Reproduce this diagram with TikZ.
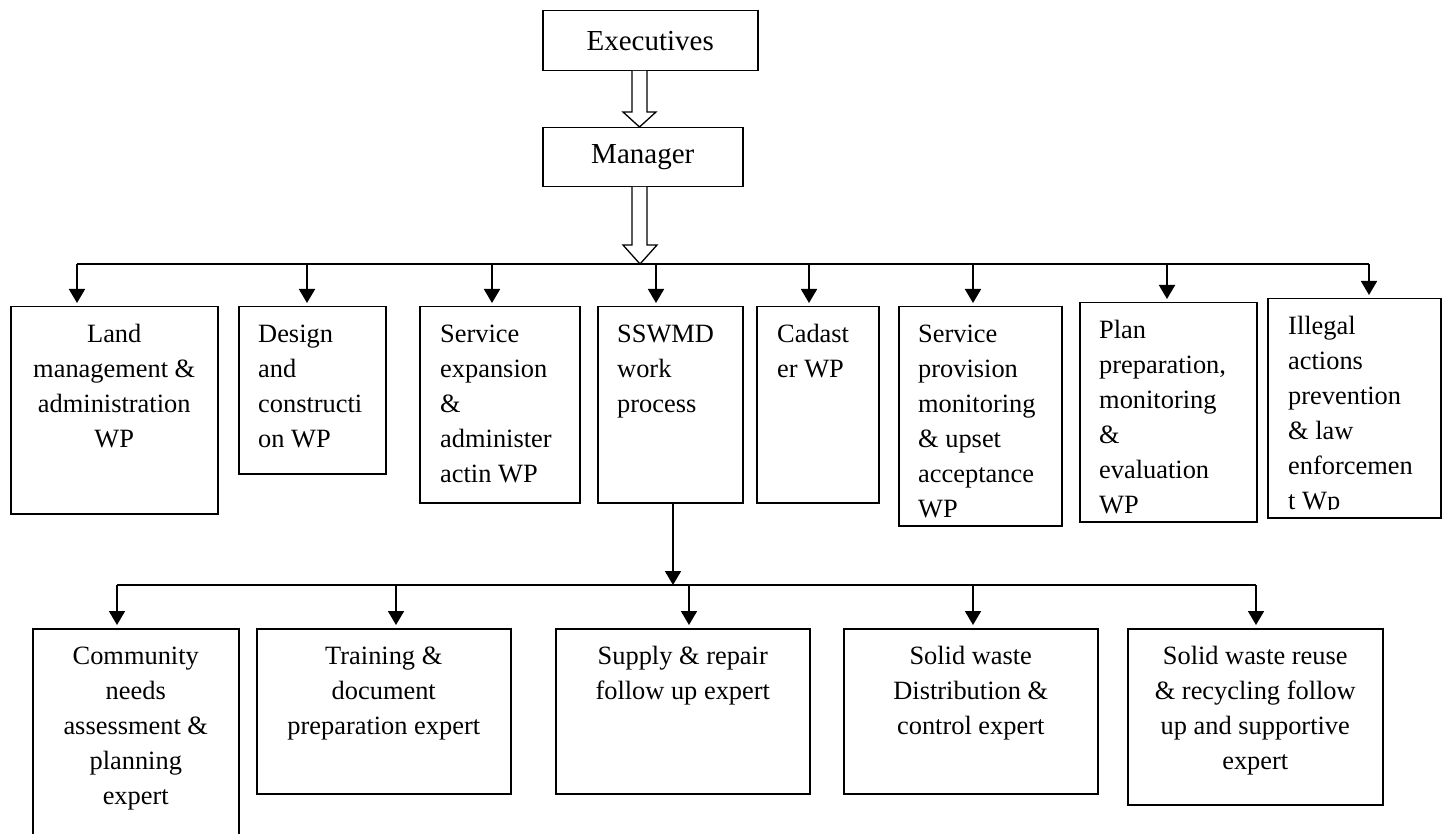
\documentclass[tikz,border=0pt]{standalone}
\usepackage{fontspec}
\setmainfont{Liberation Serif}
\usetikzlibrary{arrows.meta,calc}
\newcommand\fl{\rule{0pt}{20pt}}
\newcommand\boxtext[4]{%
  \begin{scope}
    \clip (#1.north west) rectangle ($(#1.south east)+(0,-9)$);
    \node[#2] (#1-t) at #3 {\fl #4};
  \end{scope}}
\begin{document}
\begin{tikzpicture}[x=1pt,y=-1pt,
  box/.style={draw,line width=1.5pt,rectangle,inner sep=0pt,anchor=north west},
  txt/.style={font=\fontsize{26.4}{35}\selectfont,inner sep=0pt},
  ltxt/.style={txt,align=left,anchor=north west},
  ctxt/.style={txt,align=center,anchor=north},
  toptxt/.style={font=\fontsize{29}{35}\selectfont},
  arr/.style={line width=1.8pt,-{Triangle[length=14pt,width=16pt]},shorten >=3pt},
  bus/.style={line width=1.8pt},
  hollow/.style={draw,line width=1.3pt,fill=white,line join=miter}]
\clip (0,0) rectangle (1444,834);

% top
\node[box,minimum width=215pt,minimum height=60pt,toptxt] (exec) at (542,10) {Executives};
\node[box,minimum width=200pt,minimum height=59pt,toptxt] (mgr) at (542,127) {Manager};

% row 1
\node[box,minimum width=207pt,minimum height=207pt] (land) at (10,306) {};
\node[box,minimum width=147pt,minimum height=167pt] (design) at (238,306) {};
\node[box,minimum width=160pt,minimum height=196pt] (svcexp) at (419,306) {};
\node[box,minimum width=145pt,minimum height=196pt] (sswmd) at (597,306) {};
\node[box,minimum width=122pt,minimum height=196pt] (cad) at (756,306) {};
\node[box,minimum width=163pt,minimum height=219pt] (svcprov) at (898,306) {};
\node[box,minimum width=177pt,minimum height=219pt] (plan) at (1079,302) {};
\node[box,minimum width=173pt,minimum height=219pt] (illegal) at (1267,298) {};

\boxtext{land}{ctxt}{($(land.north)+(0,16)$)}{Land\\management \&\\administration\\WP}
\boxtext{design}{ltxt}{($(design.north west)+(20,16)$)}{Design\\and\\constructi\\on WP}
\boxtext{svcexp}{ltxt}{($(svcexp.north west)+(21,16)$)}{Service\\expansion\\\&\\administer\\actin WP}
\boxtext{sswmd}{ltxt}{($(sswmd.north west)+(20,16)$)}{SSWMD\\work\\process}
\boxtext{cad}{ltxt}{($(cad.north west)+(21,16)$)}{Cadast\\er WP}
\boxtext{svcprov}{ltxt}{($(svcprov.north west)+(20,16)$)}{Service\\provision\\monitoring\\\& upset\\acceptance\\WP}
\boxtext{plan}{ltxt}{($(plan.north west)+(20,16)$)}{Plan\\preparation,\\monitoring\\\&\\evaluation\\WP}
\boxtext{illegal}{ltxt}{($(illegal.north west)+(21,16)$)}{Illegal\\actions\\prevention\\\& law\\enforcemen\\t Wp}

% row 2
\node[box,minimum width=206pt,minimum height=260pt] (comm) at (32,628) {};
\node[box,minimum width=254pt,minimum height=165pt] (train) at (256,628) {};
\node[box,minimum width=254pt,minimum height=165pt] (supply) at (555,628) {};
\node[box,minimum width=254pt,minimum height=165pt] (dist) at (843,628) {};
\node[box,minimum width=255pt,minimum height=176pt] (reuse) at (1127,628) {};

\node[ctxt] (comm-t) at ($(comm.north)+(0,16)$) {\fl Community\\needs\\assessment \&\\planning\\expert};
\node[ctxt] (train-t) at ($(train.north)+(0,16)$) {\fl Training \&\\document\\preparation expert};
\node[ctxt] (supply-t) at ($(supply.north)+(0,16)$) {\fl Supply \& repair\\follow up expert};
\node[ctxt] (dist-t) at ($(dist.north)+(0,16)$) {\fl Solid waste\\Distribution \&\\control expert};
\node[ctxt] (reuse-t) at ($(reuse.north)+(0,16)$) {\fl Solid waste reuse\\\& recycling follow\\up and supportive\\expert};

% hollow arrows
\draw[hollow] (632,71) -- (632,112) -- (623,112) -- (639.5,127) -- (656,112) -- (647,112) -- (647,71);
\draw[hollow] (632,187) -- (632,245) -- (623,245) -- (640,264) -- (657,245) -- (647,245) -- (647,187);

% bus 1
\coordinate (a1) at (77,264);
\coordinate (a2) at (307,264);
\coordinate (a3) at (492,264);
\coordinate (a4) at (656,264);
\coordinate (a5) at (809,264);
\coordinate (a6) at (973,264);
\coordinate (a7) at (1167,264);
\coordinate (a8) at (1369,264);
\draw[bus] (a1) -- (a8);
\draw[arr] (a1) -- (a1 |- land.north);
\draw[arr] (a2) -- (a2 |- design.north);
\draw[arr] (a3) -- (a3 |- svcexp.north);
\draw[arr] (a4) -- (a4 |- sswmd.north);
\draw[arr] (a5) -- (a5 |- cad.north);
\draw[arr] (a6) -- (a6 |- svcprov.north);
\draw[arr] (a7) -- (a7 |- plan.north);
\draw[arr] (a8) -- (a8 |- illegal.north);

% bus 2
\coordinate (s0) at (673,502);
\coordinate (c0) at (673,585);
\coordinate (c1) at (117,585);
\coordinate (c2) at (396,585);
\coordinate (c3) at (689,585);
\coordinate (c4) at (973,585);
\coordinate (c5) at (1256,585);
\draw[line width=1.8pt,-{Triangle[length=14pt,width=16pt]}] (s0) -- (c0);
\draw[bus] (c1) -- (c5);
\draw[arr] (c1) -- (c1 |- comm.north);
\draw[arr] (c2) -- (c2 |- train.north);
\draw[arr] (c3) -- (c3 |- supply.north);
\draw[arr] (c4) -- (c4 |- dist.north);
\draw[arr] (c5) -- (c5 |- reuse.north);
\end{tikzpicture}
\end{document}
